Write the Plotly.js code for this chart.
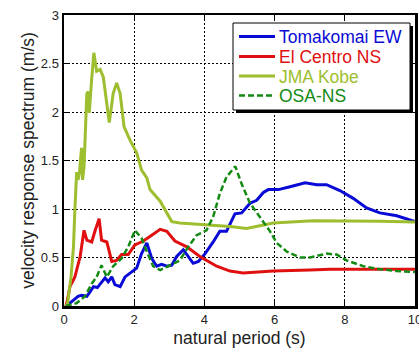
<!DOCTYPE html>
<html>
<head>
<meta charset="utf-8">
<script src="https://cdn.plot.ly/plotly-3.0.1.min.js"></script>
<style>html,body{margin:0;padding:0;background:#fff;}#chart{width:419px;height:352px;}</style>
</head>
<body>
<div id="chart"></div>
<script>
// ---- data ----
const seriesNames = ["Tomakomai EW", "El Centro NS", "JMA Kobe", "OSA-NS"];

const tomakomaiX = [0.05,0.1,0.27,0.4,0.5,0.65,0.75,0.84,0.95,1.03,1.17,1.26,1.36,1.45,1.6,1.74,1.93,2.07,2.21,2.36,2.5,2.64,2.78,2.93,3.07,3.21,3.4,3.54,3.68,3.83,4.02,4.25,4.44,4.63,4.73,4.87,5.06,5.3,5.49,5.68,5.82,6.11,6.44,6.87,7.2,7.48,7.86,8.24,8.62,9.0,9.48,10];
const tomakomaiY = [0,0.01,0.06,0.1,0.11,0.10,0.15,0.20,0.19,0.23,0.29,0.25,0.30,0.22,0.20,0.30,0.35,0.39,0.54,0.65,0.49,0.41,0.43,0.41,0.42,0.51,0.58,0.51,0.44,0.46,0.54,0.66,0.77,0.77,0.85,0.95,0.96,1.06,1.09,1.17,1.20,1.20,1.23,1.27,1.25,1.25,1.19,1.11,1.01,0.96,0.93,0.87];

const elCentroX = [0.05,0.08,0.17,0.31,0.46,0.57,0.65,0.79,0.88,1.0,1.07,1.22,1.36,1.5,1.64,1.83,2.02,2.26,2.5,2.74,2.93,3.16,3.5,3.87,4.35,4.73,5.1,5.5,5.96,7.0,7.58,8.5,10];
const elCentroY = [0,0.03,0.2,0.30,0.51,0.78,0.68,0.66,0.77,0.90,0.68,0.66,0.46,0.47,0.53,0.53,0.63,0.67,0.73,0.79,0.77,0.67,0.61,0.51,0.41,0.36,0.34,0.35,0.36,0.37,0.38,0.38,0.38];

const kobeX = [0.05,0.1,0.2,0.27,0.31,0.36,0.4,0.44,0.5,0.53,0.57,0.62,0.65,0.69,0.72,0.78,0.85,0.93,1.03,1.12,1.2,1.29,1.35,1.4,1.5,1.6,1.71,1.88,2.07,2.21,2.36,2.45,2.74,3.07,3.3,4.16,4.73,5.2,5.96,7.1,8.05,9.0,10];
const kobeY = [0,0.02,0.3,0.61,0.99,1.38,1.3,1.37,1.63,1.3,1.43,2.0,2.19,2.21,1.99,2.3,2.61,2.42,2.44,2.36,2.15,1.89,2.05,2.19,2.30,2.19,1.85,1.71,1.58,1.40,1.32,1.20,1.08,0.87,0.855,0.835,0.82,0.80,0.855,0.88,0.88,0.875,0.865];

const osaX = [0.05,0.36,0.6,0.79,0.93,1.07,1.22,1.4,1.64,1.83,2.02,2.21,2.36,2.54,2.74,2.97,3.3,3.54,3.78,4.06,4.25,4.44,4.63,4.88,5.06,5.3,5.58,5.87,6.06,6.35,6.72,7.01,7.48,7.77,8.05,8.53,9.0,9.48,10];
const osaY = [0,0.03,0.10,0.23,0.30,0.42,0.30,0.41,0.49,0.61,0.78,0.70,0.56,0.41,0.37,0.41,0.47,0.61,0.73,0.78,0.92,1.16,1.33,1.44,1.26,1.06,0.92,0.77,0.65,0.56,0.50,0.50,0.54,0.53,0.47,0.41,0.38,0.36,0.35];

const xTickVals = [0,2,4,6,8,10];
const yTickVals = [0,0.5,1,1.5,2,2.5,3];
const yTickText = ["0","0.5","1","1.5","2","2.5","3"];

// ---- style ----
const colors = ["#0a0ad6", "#e01010", "#9dbe2e", "#138a13"];
const dashes = ["solid", "solid", "solid", "6px,3px"];
const widths = [3, 3, 3, 2.5];
const xs = [tomakomaiX, elCentroX, kobeX, osaX];
const ys = [tomakomaiY, elCentroY, kobeY, osaY];

const traces = seriesNames.map((n, i) => ({
  type: "scatter", mode: "lines", name: n,
  x: xs[i], y: ys[i],
  line: {color: colors[i], width: widths[i], dash: dashes[i]},
  showlegend: false
}));

// plot area in pixels
const W = 419, H = 352, L = 64, R = 415, T = 15, B = 306;
const px = v => (v - L) / (R - L);
const py = v => (B - v) / (B - T);

const shapes = [];
const annotations = [];
// legend box with shadow
shapes.push({type:"rect", xref:"paper", yref:"paper", x0:px(236), x1:px(413), y0:py(26), y1:py(113), fillcolor:"#000", line:{width:0}, layer:"above"});
shapes.push({type:"rect", xref:"paper", yref:"paper", x0:px(233), x1:px(410), y0:py(23), y1:py(110), fillcolor:"#fff", line:{color:"#000", width:1}, layer:"above"});
const rowY = [36.5, 56.5, 76, 95.5];
seriesNames.forEach((n, i) => {
  shapes.push({type:"line", xref:"paper", yref:"paper", x0:px(239), x1:px(275), y0:py(rowY[i]), y1:py(rowY[i]),
    line:{color:colors[i], width:widths[i], dash:dashes[i]}, layer:"above"});
  annotations.push({xref:"paper", yref:"paper", x:px(277), y:py(rowY[i]+0.5), xanchor:"left", yanchor:"middle",
    text:n, showarrow:false, font:{family:"Liberation Sans, Arial, sans-serif", size:17.5, color:colors[i]}});
});

const axisCommon = {
  showline: true, linecolor: "#000", linewidth: 2.5, mirror: "allticks",
  ticks: "inside", ticklen: 5, tickwidth: 1, tickcolor: "#000",
  showgrid: true, gridcolor: "#000", gridwidth: 1, griddash: "2px,2px",
  zeroline: false, ticklabeloverflow: "allow",
  tickfont: {family: "Liberation Sans, Arial, sans-serif", size: 13, color: "#222"}
};

const layout = {
  width: W, height: H,
  margin: {l: L, r: W - R, t: T, b: H - B},
  paper_bgcolor: "#fff", plot_bgcolor: "#fff",
  showlegend: false,
  xaxis: Object.assign({}, axisCommon, {
    range: [0, 10], tickvals: xTickVals, ticktext: xTickVals.map(String),
    title: {text: "natural period (s)", standoff: 6, font: {family: "Liberation Sans, Arial, sans-serif", size: 17.5, color: "#222"}}
  }),
  yaxis: Object.assign({}, axisCommon, {
    range: [0, 3], tickvals: yTickVals, ticktext: yTickText,
    title: {text: "velocity response spectrum (m/s)", standoff: 2, font: {family: "Liberation Sans, Arial, sans-serif", size: 17.5, color: "#222"}}
  }),
  shapes: shapes,
  annotations: annotations
};

Plotly.newPlot("chart", traces, layout, {staticPlot: true, displayModeBar: false});
</script>
</body>
</html>
